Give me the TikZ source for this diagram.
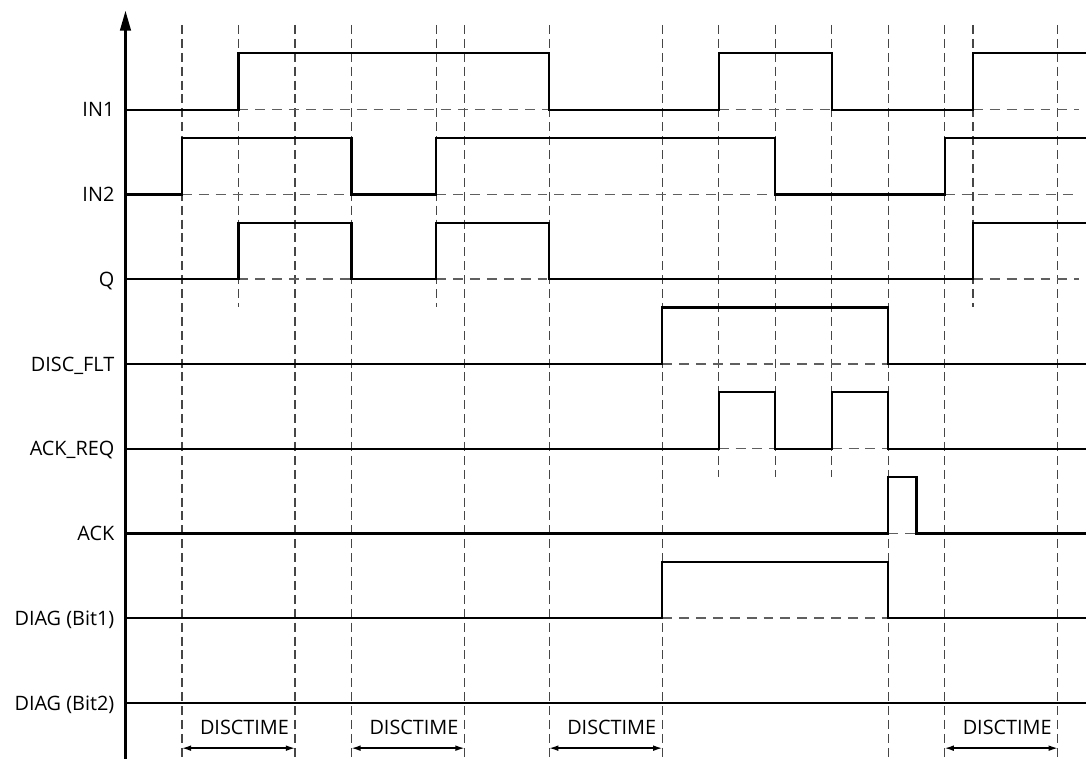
\documentclass[tikz,border=0pt]{standalone}
\usepackage{fontspec}
\setmainfont{Open Sans}
\usepackage{tikz}
\usetikzlibrary{arrows.meta, calc}
\definecolor{sigcol}{RGB}{0,0,0}
\definecolor{gridcol}{RGB}{70,70,70}
\definecolor{basecol}{RGB}{95,95,95}

\begin{document}
\begin{tikzpicture}[
    sig/.style={sigcol, line width=1.05pt},
    vgrid/.style={gridcol, line width=0.6pt, dash pattern=on 4.5pt off 2.5pt},
    hbase/.style={basecol, line width=0.75pt, dash pattern=on 5pt off 3.5pt},
    axisarr/.style={-{Triangle[length=0.35cm, width=0.19cm]}, line width=1.05pt},
    dimarr/.style={{Latex[length=0.16cm, width=0.1cm]}-{Latex[length=0.16cm, width=0.1cm]},
                   line width=0.7pt},
    siglabel/.style={anchor=east, inner sep=0pt, font=\fontsize{10}{12}\selectfont,
                     text height=0.252cm, text depth=0pt},
]

\path[use as bounding box] (-3.221,-0.991) rectangle (16.018,12.442);

% ════════════════════════════════════════════════════════
% 0. TIME GRID (DASHED VERTICALS)
% ════════════════════════════════════════════════════════
\foreach \x in {0, 2, 3, 5, 6.5, 8.5, 12.5, 13.5, 15.5}{
    \draw[vgrid] (\x, 12) -- (\x, -0.991);
}
\foreach \x in {1, 4.5, 14}{
    \draw[vgrid] (\x, 12) -- (\x, 7);
}
\foreach \x in {9.5, 10.5, 11.5}{
    \draw[vgrid] (\x, 12) -- (\x, 4);
}

% ════════════════════════════════════════════════════════
% 1. AXIS AND SIGNAL NAMES
% ════════════════════════════════════════════════════════
\coordinate (AXB) at (-1, -0.991);
\coordinate (AXT) at (-1, 12.25);
\draw[axisarr] (AXB) -- (AXT);

\foreach \lab/\y [count=\i] in {IN1/10.5, IN2/9, Q/7.5, DISC\_FLT/6,
        ACK\_REQ/4.5, ACK/3, DIAG (Bit1)/1.5, DIAG (Bit2)/0}{
    \node[siglabel] (sn\i) at (-1.19, \y) {\lab};
}

% ════════════════════════════════════════════════════════
% 2. LOW LEVEL UNDER HIGH PULSES (DASHED)
% ════════════════════════════════════════════════════════
% IN1
\draw[hbase] (1, 10.5) -- (6.5, 10.5);
\draw[hbase] (9.5, 10.5) -- (11.5, 10.5);
\draw[hbase] (14, 10.5) -- (15.88, 10.5);
% IN2
\draw[hbase] (0, 9) -- (3, 9);
\draw[hbase] (4.5, 9) -- (10.5, 9);
\draw[hbase] (13.5, 9) -- (15.88, 9);
% Q
\draw[hbase] (1, 7.5) -- (3, 7.5);
\draw[hbase] (4.5, 7.5) -- (6.5, 7.5);
\draw[hbase] (14, 7.5) -- (15.88, 7.5);
% DISC_FLT
\draw[hbase] (8.5, 6) -- (12.5, 6);
% ACK_REQ
\draw[hbase] (9.5, 4.5) -- (10.5, 4.5);
\draw[hbase] (11.5, 4.5) -- (12.5, 4.5);
% ACK
\draw[hbase] (12.5, 3) -- (13, 3);
% DIAG (Bit1)
\draw[hbase] (8.5, 1.5) -- (12.5, 1.5);

% ════════════════════════════════════════════════════════
% 3. SIGNAL WAVEFORMS
% ════════════════════════════════════════════════════════
% IN1
\draw[sig] (-1, 10.5) -- (1, 10.5) |- (6.5, 11.5) |- (9.5, 10.5)
    |- (11.5, 11.5) |- (14, 10.5) |- (16, 11.5);
% IN2
\draw[sig] (-1, 9) -- (0, 9) |- (3, 10) |- (4.5, 9)
    |- (10.5, 10) |- (13.5, 9) |- (16, 10);
% Q
\draw[sig] (-1, 7.5) -- (1, 7.5) |- (3, 8.5) |- (4.5, 7.5)
    |- (6.5, 8.5) |- (14, 7.5) |- (16, 8.5);
% DISC_FLT
\draw[sig] (-1, 6) -- (8.5, 6) |- (12.5, 7) |- (16, 6);
% ACK_REQ
\draw[sig] (-1, 4.5) -- (9.5, 4.5) |- (10.5, 5.5) |- (11.5, 4.5)
    |- (12.5, 5.5) |- (16, 4.5);
% ACK
\draw[sig] (-1, 3) -- (12.5, 3) |- (13, 4) |- (16, 3);
% DIAG (Bit1)
\draw[sig] (-1, 1.5) -- (8.5, 1.5) |- (12.5, 2.5) |- (16, 1.5);
% DIAG (Bit2)
\draw[sig] (-1, 0) -- (16, 0);

% ════════════════════════════════════════════════════════
% 4. DISCTIME INTERVALS
% ════════════════════════════════════════════════════════
\foreach \a/\b [count=\i] in {0/2, 3/5, 6.5/8.5, 13.5/15.5}{
    \coordinate (dtl\i) at (\a, -0.8);
    \coordinate (dtr\i) at (\b, -0.8);
    \draw[dimarr] (dtl\i) -- (dtr\i);
    \node[siglabel] (dt\i) at (\b-0.1, -0.425) {DISCTIME};
}

\end{tikzpicture}
\end{document}
